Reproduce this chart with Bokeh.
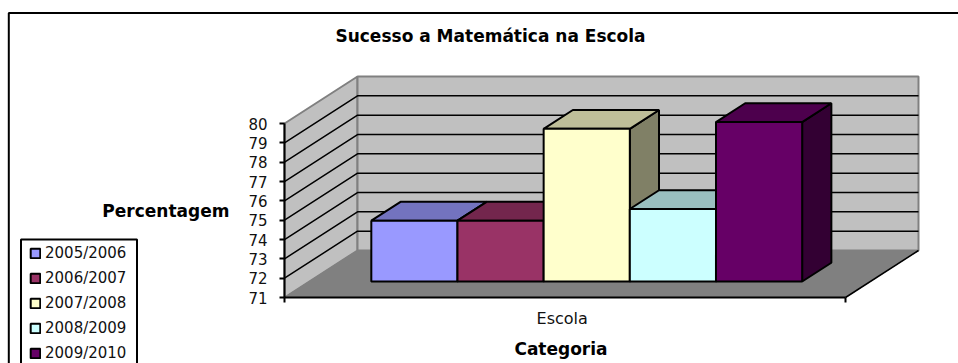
from bokeh.plotting import figure
from bokeh.embed import file_html
from bokeh.resources import INLINE
from bokeh.models import LinearAxis, FixedTicker, Legend, LegendItem, Label, Range1d

title_text = "Sucesso a Matemática na Escola"
y_label = "Percentagem"
x_label = "Categoria"
category = "Escola"
series = ["2005/2006", "2006/2007", "2007/2008", "2008/2009", "2009/2010"]
values = [74.15, 74.15, 78.9, 74.75, 79.25]
y_ticks = [71, 72, 73, 74, 75, 76, 77, 78, 79, 80]
front_colors = ["#9999FF", "#993366", "#FFFFCC", "#CCFFFF", "#660066"]
top_colors = ["#7373BF", "#73264D", "#BFBF99", "#99BFBF", "#4D004D"]
side_colors = ["#4D4D80", "#4D1A33", "#808066", "#668080", "#330033"]

Y_MIN, Y_MAX = 71, 80
BAR_W = 0.1536
BAR_START = 0.1105
BAR_D0, BAR_D1 = 0.34, 0.74
DEPTH_X = 73 / 561
DEPTH_Y = 47 / 19.33
FONT = "DejaVu Sans"

# page pixel -> data helpers (only for the chart's frame and captions)
def dx(px):
    return (px - 284) / 561
def dy(py):
    return 71 + (297 - py) / 19.33

def proj(x, v, d):
    return x + d * DEPTH_X, v + d * DEPTH_Y

p = figure(width=958, height=363, output_backend="svg", toolbar_location=None,
           x_axis_type=None, y_axis_type=None, min_border=0,
           x_range=Range1d(dx(0), dx(958)), y_range=Range1d(dy(363), dy(0)))
p.outline_line_color = None
p.background_fill_color = "white"

# chart border (left + top)
p.line([dx(8.3), dx(8.3), dx(958)], [dy(363), dy(12.5), dy(12.5)], line_color="black", line_width=2)

def corners(pts):
    xs, ys = zip(*pts)
    return list(xs), list(ys)

# walls and floor
xs, ys = corners([proj(0, Y_MIN, 0), proj(0, Y_MAX, 0), proj(0, Y_MAX, 1), proj(0, Y_MIN, 1)])
p.patch(xs, ys, fill_color="#C0C0C0", line_color="#808080", line_width=2)
xs, ys = corners([proj(0, Y_MIN, 1), proj(0, Y_MAX, 1), proj(1, Y_MAX, 1), proj(1, Y_MIN, 1)])
p.patch(xs, ys, fill_color="#C0C0C0", line_color="#808080", line_width=2)
xs, ys = corners([proj(0, Y_MIN, 0), proj(1, Y_MIN, 0), proj(1, Y_MIN, 1), proj(0, Y_MIN, 1)])
p.patch(xs, ys, fill_color="#808080", line_color="#808080", line_width=1)

# gridlines
for v in y_ticks[1:-1]:
    a, b, c = proj(0, v, 0), proj(0, v, 1), proj(1, v, 1)
    p.line([a[0], b[0], c[0]], [a[1], b[1], c[1]], line_color="black", line_width=1.5)

# right floor edge
a, b = proj(1, Y_MIN, 0), proj(1, Y_MIN, 1)
p.line([a[0], b[0]], [a[1], b[1]], line_color="black", line_width=1.5)

# bars, left to right
items = []
for i, (name, val) in enumerate(zip(series, values)):
    x0 = BAR_START + i * BAR_W
    x1 = x0 + BAR_W
    xs, ys = corners([proj(x1, Y_MIN, BAR_D0), proj(x1, val, BAR_D0), proj(x1, val, BAR_D1), proj(x1, Y_MIN, BAR_D1)])
    p.patch(xs, ys, fill_color=side_colors[i], line_color="black", line_width=2)
    xs, ys = corners([proj(x0, val, BAR_D0), proj(x1, val, BAR_D0), proj(x1, val, BAR_D1), proj(x0, val, BAR_D1)])
    p.patch(xs, ys, fill_color=top_colors[i], line_color="black", line_width=2)
    l, b = proj(x0, Y_MIN, BAR_D0)
    r, t = proj(x1, val, BAR_D0)
    q = p.quad(left=[l], right=[r], top=[t], bottom=[b], fill_color=front_colors[i],
               line_color="black", line_width=2)
    items.append(LegendItem(label=name, renderers=[q]))

# legend box
p.quad(left=[dx(20.5)], right=[dx(136.5)], top=[dy(239)], bottom=[dy(375)],
       fill_color="white", line_color="black", line_width=2)

legend = Legend(items=items, location=(29, 1), orientation="vertical",
                border_line_color=None, background_fill_color=None, background_fill_alpha=0,
                padding=2, margin=0, spacing=7, glyph_width=12, glyph_height=12,
                label_standoff=4, label_text_font=FONT, label_text_font_size="15px",
                label_text_color="#111111", label_height=18)
p.add_layout(legend, "center")

# axes
yax = LinearAxis(ticker=FixedTicker(ticks=y_ticks), bounds=(Y_MIN, Y_MAX), fixed_location=0,
                 axis_line_color="black", axis_line_width=2,
                 major_tick_line_color="black", major_tick_line_width=2,
                 major_tick_in=0, major_tick_out=5, minor_tick_line_color=None,
                 major_label_standoff=12, major_label_text_font=FONT,
                 major_label_text_font_size="15px", major_label_text_color="#111111",
                 axis_label=y_label, axis_label_orientation="horizontal",
                 axis_label_standoff=16, axis_label_text_font=FONT,
                 axis_label_text_font_size="17px", axis_label_text_font_style="bold",
                 axis_label_text_color="black")
p.add_layout(yax, "left")

xax = LinearAxis(ticker=FixedTicker(ticks=[0, 1]), bounds=(0, 1), fixed_location=Y_MIN,
                 axis_line_color="black", axis_line_width=2,
                 major_tick_line_color="black", major_tick_line_width=2,
                 major_tick_in=0, major_tick_out=5, minor_tick_line_color=None,
                 major_label_overrides={0: "", 1: ""})
p.add_layout(xax, "below")

xcat = LinearAxis(ticker=FixedTicker(ticks=[0.495]), bounds=(0, 0.985), fixed_location=Y_MIN,
                  axis_line_color=None, major_tick_line_color=None, minor_tick_line_color=None,
                  major_label_overrides={0.495: category}, major_label_standoff=5,
                  major_label_text_font=FONT, major_label_text_font_size="16px",
                  major_label_text_color="#111111",
                  axis_label=x_label, axis_label_standoff=8, axis_label_text_font=FONT,
                  axis_label_text_font_size="17px", axis_label_text_font_style="bold",
                  axis_label_text_color="black")
p.add_layout(xcat, "below")

# chart title
p.add_layout(Label(x=dx(490), y=dy(35), text=title_text, text_align="center", text_baseline="middle",
                   text_font=FONT, text_font_size="17px", text_font_style="bold", text_color="black"))

open("out.html", "w").write(file_html(p, INLINE))
